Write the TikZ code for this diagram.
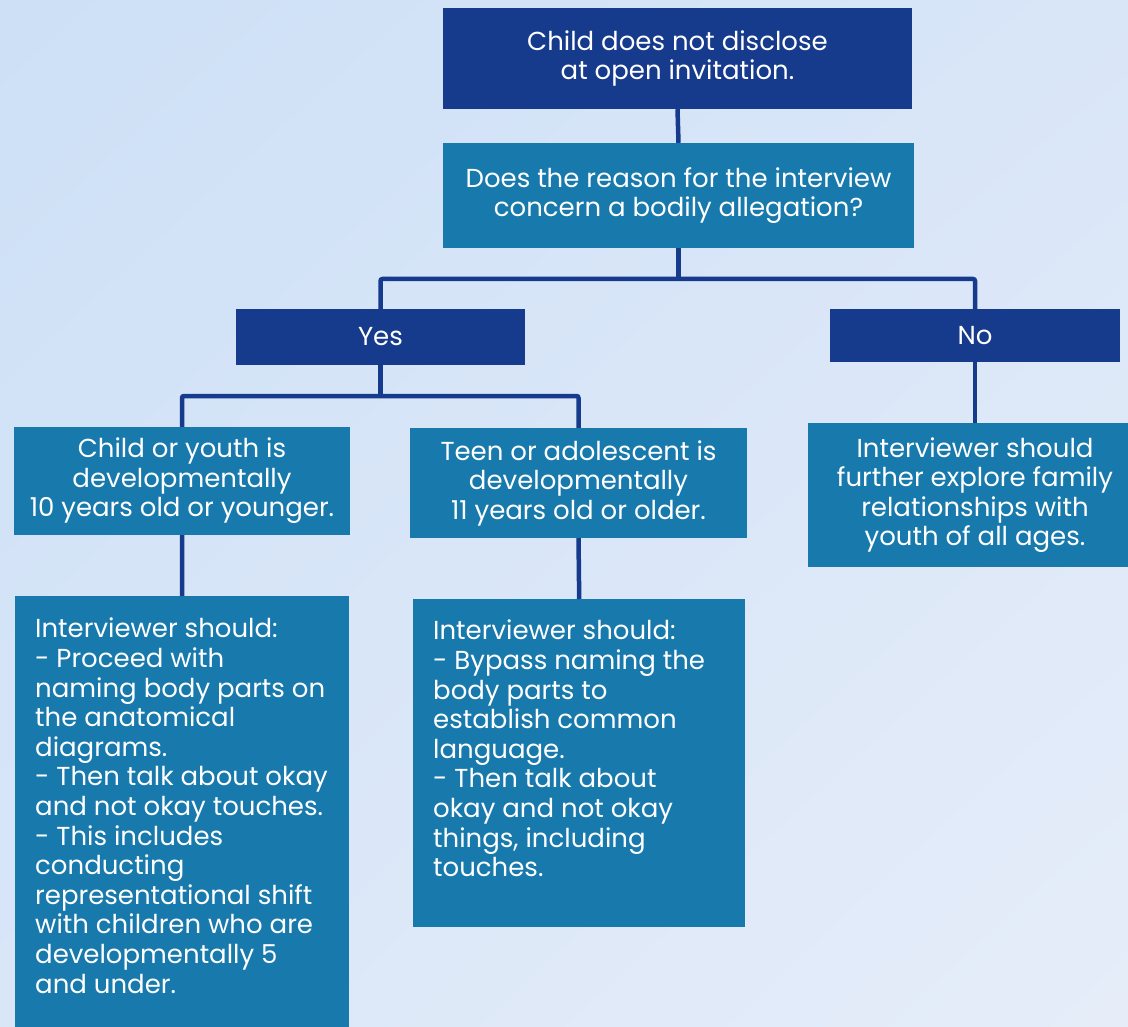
\documentclass[tikz,border=0pt]{standalone}
\usepackage{fontspec}
\setmainfont{Poppins}
\usetikzlibrary{shadings}
\definecolor{dkblue}{RGB}{22,58,140}
\definecolor{mdblue}{RGB}{24,121,173}
\definecolor{bgA}{RGB}{205,224,246}
\definecolor{bgM}{RGB}{217,230,248}
\definecolor{bgB}{RGB}{230,237,249}
\begin{document}
\begin{tikzpicture}[x=1pt,y=-1pt,
  box/.style={rectangle, inner sep=0pt, text=white, font=\fontsize{26}{29.5}\selectfont, align=center},
  dk/.style={box, fill=dkblue},
  md/.style={box, fill=mdblue},
  para/.style={inner sep=0pt, text=white, font=\fontsize{26}{29.6}\selectfont, align=left, anchor=north west},
  conn/.style={draw=dkblue, line width=4.5pt, rounded corners=2pt}]
\useasboundingbox (0,0) rectangle (1128,1027);
\clip (0,0) rectangle (1128,1027);
\shade[upper left=bgA, upper right=bgM, lower left=bgM, lower right=bgB] (0,0) rectangle (1128,1027);

\node[dk, minimum width=469pt, minimum height=101pt] (top) at (677.5,58.5)
  {Child does not disclose\\at open invitation.};
\node[md, minimum width=471pt, minimum height=105pt] (q) at (678.5,195.5)
  {Does the reason for the interview\\concern a bodily allegation?};
\node[dk, minimum width=289pt, minimum height=56pt] (yes) at (380.5,337) {Yes};
\node[dk, minimum width=290pt, minimum height=53pt] (no) at (975,335.5) {No};
\node[md, minimum width=336pt, minimum height=108pt] (child) at (182,481)
  {Child or youth is\\developmentally\\10 years old or younger.};
\node[md, minimum width=337pt, minimum height=110pt] (teen) at (578.5,483)
  {Teen or adolescent is\\developmentally\\11 years old or older.};
\node[md, minimum width=334pt, minimum height=144pt] (nores) at (975,495)
  {Interviewer should\\further explore family\\relationships with\\youth of all ages.};
\node[md, anchor=north west, minimum width=334pt, minimum height=450pt] (lb) at (15,596) {};
\node[md, anchor=north west, minimum width=332pt, minimum height=328pt] (mb) at (413,599) {};

\node[para] (lbt) at (35,618) {Interviewer should:\\- Proceed with\\naming body parts on\\the anatomical\\diagrams.\\- Then talk about okay\\and not okay touches.\\- This includes\\conducting\\representational shift\\with children who are\\developmentally 5\\and under.};
\node[para] (mbt) at (433,620) {Interviewer should:\\- Bypass naming the\\body parts to\\establish common\\language.\\- Then talk about\\okay and not okay\\things, including\\touches.};

\coordinate (j1) at (678.5,279);
\coordinate (j2) at (380.5,396);
\draw[conn] (top.south) -- (q.north);
\draw[conn] (q.south) -- (j1);
\draw[conn] (yes.north) |- (j1) -| (no.north);
\draw[conn] (yes.south) -- (j2);
\draw[conn] (child.north) |- (j2) -| (teen.north);
\draw[conn] (no.south) -- (nores.north);
\draw[conn] (child.south) -- (lb.north);
\draw[conn] (teen.south) -- (mb.north);
\end{tikzpicture}
\end{document}
